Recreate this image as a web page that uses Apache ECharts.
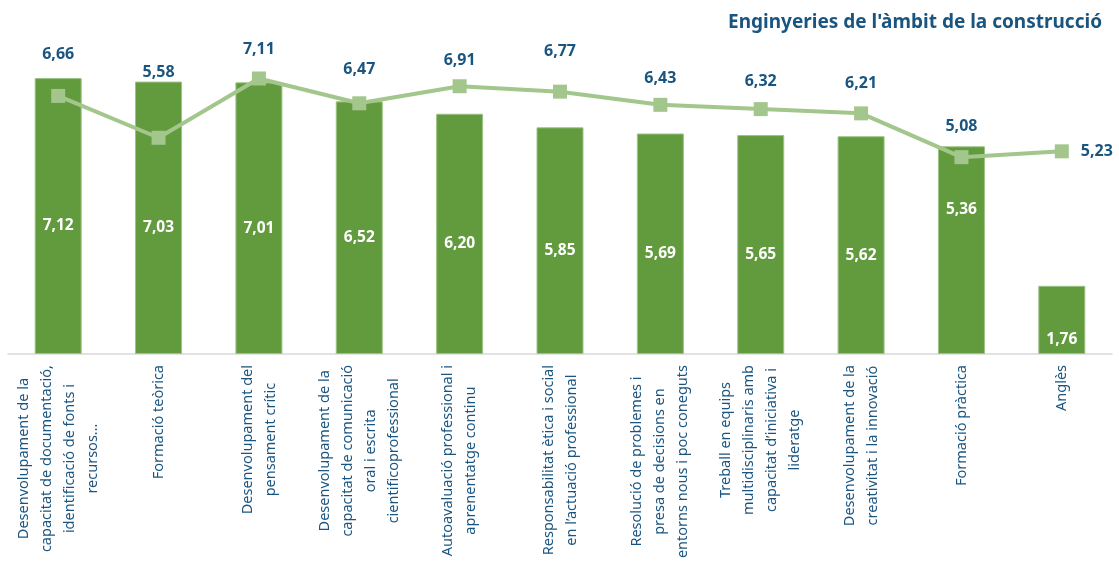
<!DOCTYPE html>
<html>
<head>
<meta charset="utf-8">
<script src="https://cdn.jsdelivr.net/npm/echarts@6/dist/echarts.min.js"></script>
<style>
  html, body { margin: 0; padding: 0; background: #fff; }
  #chart { width: 1119px; height: 580px; }
</style>
</head>
<body>
<div id="chart"></div>
<script>
const categories = [
  'Desenvolupament de la\ncapacitat de documentació,\nidentificació de fonts i\nrecursos...',
  'Formació teòrica',
  'Desenvolupament del\npensament crític',
  'Desenvolupament de la\ncapacitat de comunicació\noral i escrita\ncientificoprofessional',
  'Autoavaluació professional i\naprenentatge continu',
  'Responsabilitat ètica i social\nen l’actuació professional',
  'Resolució de problemes i\npresa de decisions en\nentorns nous i poc coneguts',
  'Treball en equips\nmultidisciplinaris amb\ncapacitat d’iniciativa i\nlideratge',
  'Desenvolupament de la\ncreativitat i la innovació',
  'Formació pràctica',
  'Anglès'
]
const barValues = [7.12, 7.03, 7.01, 6.52, 6.20, 5.85, 5.69, 5.65, 5.62, 5.36, 1.76]
const lineValues = [6.66, 5.58, 7.11, 6.47, 6.91, 6.77, 6.43, 6.32, 6.21, 5.08, 5.23]

const blue = '#1a5580'
const barColor = '#629a3e'
const lineColor = '#a3c68c'
const font = 'Noto Sans'

const fmt = v => v.toFixed(2).replace('.', ',')

// label nudges, as hand-placed in the original
const barLabelShift = { 9: -51, 10: 10 }
const lineLabelShift = { 0: -15, 1: -39, 2: -3, 3: -8, 5: -14, 7: -2, 8: -4, 9: -5 }

const chart = echarts.init(document.getElementById('chart'))
chart.setOption({
  animation: false,
  title: {
    text: "Enginyeries de l'àmbit de la construcció",
    right: 12,
    top: 8,
    textStyle: { color: blue, fontFamily: font, fontSize: 19, fontWeight: 'bold' }
  },
  grid: { left: 8, right: 7, top: 44, bottom: 226 },
  xAxis: {
    type: 'category',
    data: categories,
    axisTick: { show: false },
    axisLine: { lineStyle: { color: '#d9d9d9', width: 1.5 } },
    axisLabel: {
      interval: 0,
      rotate: 90,
      margin: 11,
      color: blue,
      fontFamily: font,
      fontSize: 14.5,
      lineHeight: 23,
      formatter: function(value) {
        return value.split('\n').map(s => '{c|' + s + '}').join('\n')
      },
      rich: {
        c: { align: 'center', color: blue, fontFamily: font, fontSize: 14.5, lineHeight: 23 }
      }
    }
  },
  yAxis: {
    type: 'value',
    min: 0,
    max: 8,
    show: false,
    splitLine: { show: false }
  },
  series: [{
    type: 'bar',
    barWidth: 47,
    data: barValues.map((v, i) => ({
      value: v,
      label: { offset: [0, 10 + (barLabelShift[i] || 0)] }
    })),
    itemStyle: { color: barColor, borderColor: '#9cc485', borderWidth: 1 },
    label: {
      show: true,
      position: 'inside',
      color: '#fff',
      fontFamily: font,
      fontSize: 15.5,
      fontWeight: 'bold',
      formatter: p => fmt(p.value)
    }
  }, {
    type: 'line',
    data: lineValues.map((v, i) => ({
      value: v,
      label: i === lineValues.length - 1
        ? { position: 'right', distance: 12, offset: [0, 0] }
        : { offset: [0, lineLabelShift[i] || 0] }
    })),
    symbol: 'rect',
    symbolSize: 14,
    lineStyle: { color: lineColor, width: 4 },
    itemStyle: { color: lineColor },
    label: {
      show: true,
      position: 'top',
      distance: 11,
      color: blue,
      fontFamily: font,
      fontSize: 16,
      fontWeight: 'bold',
      formatter: p => fmt(p.value)
    }
  }]
})
</script>
</body>
</html>
